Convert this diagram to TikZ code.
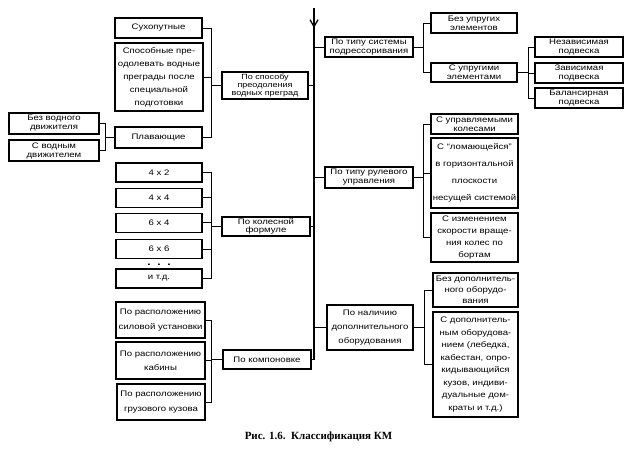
\documentclass[tikz,border=0pt]{standalone}
\usepackage{fontspec}
\setmainfont{Liberation Serif}
\newfontfamily\kmfont[FakeStretch=1.2]{Liberation Sans}
\usetikzlibrary{arrows.meta,positioning}

\begin{document}
\begin{tikzpicture}[x=1pt,y=-1pt,
    kbox/.style={draw,line width=1.2pt,align=center,inner sep=1pt,font=\kmfont\fontsize{8}{9}\selectfont},
    lsp/.style={font=\kmfont\fontsize{8}{#1}\selectfont},
    wire/.style={line width=0.9pt}]
  \useasboundingbox (0,0) rectangle (640,456);
  \coordinate (top) at (314,8);
  \coordinate (tip) at (314,28);
  \coordinate (bot) at (314,359.5);
  \draw[line width=1.3pt] (top) -- (bot);
  \draw[line width=1.3pt,-{Straight Barb[length=7pt,width=8pt]}] (top) -- (tip);

  % left side
  \node[kbox,minimum width=87,minimum height=20] (suh) at (158.5,28) {Сухопутные};
  \node[kbox,minimum width=88,minimum height=68,lsp=13] (spos) at (159,77) {Способные пре-\\одолевать водные\\преграды после\\специальной\\подготовки};
  \node[kbox,minimum width=87,minimum height=21] (plav) at (158.5,137.5) {Плавающие};
  \node[kbox,minimum width=90,minimum height=21] (bezd) at (54,123.5) {Без водного\\движителя};
  \node[kbox,minimum width=90,minimum height=21] (sdv) at (54,150.5) {С водным\\движителем};
  \node[kbox,minimum width=86,minimum height=27,font=\kmfont\fontsize{7.5}{7.8}\selectfont] (vodn) at (265,85.5) {По способу\\преодоления\\водных преград};

  \node[kbox,minimum width=86,minimum height=19] (f42) at (159,172.5) {4 x 2};
  \node[kbox,minimum width=86,minimum height=19,below=5pt of f42] (f44) {4 x 4};
  \node[kbox,minimum width=86,minimum height=19,below=5pt of f44] (f64) {6 x 4};
  \node[kbox,minimum width=86,minimum height=19,below=6pt of f64] (f66) {6 x 6};
  \node[font=\kmfont\bfseries] (dots) at (159,265) {.\ \ .\ \ .};
  \node[kbox,minimum width=86,minimum height=19] (itd) at (159,278.5) {и т.д.};
  \node[kbox,minimum width=88,minimum height=19,lsp=8.5] (kolf) at (266,226.5) {По колесной\\формуле};

  \node[kbox,minimum width=89,minimum height=36,lsp=15] (sil) at (160.5,320) {По расположению\\силовой установки};
  \node[kbox,minimum width=89,minimum height=37,lsp=14] (kab) at (160.5,360.5) {По расположению\\кабины};
  \node[kbox,minimum width=88,minimum height=36,lsp=15] (kuz) at (161,402) {По расположению\\грузового кузова};
  \node[kbox,minimum width=88,minimum height=19] (komp) at (267,359.5) {По компоновке};

  % right side
  \node[kbox,minimum width=88,minimum height=20] (podr) at (369,47) {По типу системы\\подрессоривания};
  \node[kbox,minimum width=86,minimum height=20] (bezu) at (474,23) {Без упругих\\элементов};
  \node[kbox,minimum width=86,minimum height=19] (supr) at (474,72.5) {С упругими\\элементами};
  \node[kbox,minimum width=88,minimum height=20] (nez) at (579,47) {Независимая\\подвеска};
  \node[kbox,minimum width=88,minimum height=20] (zav) at (579,73) {Зависимая\\подвеска};
  \node[kbox,minimum width=88,minimum height=20] (bal) at (579,98) {Балансирная\\подвеска};

  \node[kbox,minimum width=88,minimum height=21] (rul) at (369,177.5) {По типу рулевого\\управления};
  \node[kbox,minimum width=87,minimum height=20] (upr) at (474.5,124) {С управляемыми\\колесами};
  \node[kbox,minimum width=87,minimum height=70,lsp=17] (lom) at (474.5,173) {С “ломающейся”\\в горизонтальной\\плоскости\\несущей системой};
  \node[kbox,minimum width=87,minimum height=49,lsp=12] (izm) at (474.5,237.5) {С изменением\\скорости враще-\\ния колес по\\бортам};

  \node[kbox,minimum width=86,minimum height=45,lsp=14] (nal) at (370,327.5) {По наличию\\дополнительного\\оборудования};
  \node[kbox,minimum width=85,minimum height=34,lsp=11] (bezdop) at (475.5,290) {Без дополнитель-\\ного оборудо-\\вания};
  \node[kbox,minimum width=85,minimum height=105,lsp=12.5] (sdop) at (475.5,364.5) {С дополнитель-\\ным оборудова-\\нием (лебедка,\\кабестан, опро-\\кидывающийся\\кузов, индиви-\\дуальные дом-\\краты и т.д.)};

  \node[font=\bfseries\fontsize{11}{13}\selectfont] (cap) at (318.5,437) {Рис. 1.6.\ \ Классификация КМ};

  % connectors
  \foreach \n in {vodn,kolf} \draw[wire] (\n.east) -- (\n.east -| top);
  \draw[wire] (komp.east) -- (bot);
  \foreach \n in {podr,rul,nal} \draw[wire] (\n.west -| top) -- (\n.west);
  \foreach \c in {suh,spos,plav} \draw[wire] (\c.east) -| ([xshift=-10pt]vodn.west) -- (vodn.west);
  \foreach \c in {bezd,sdv} \draw[wire] (\c.east) -| ([xshift=-9pt]plav.west) -- (plav.west);
  \foreach \c in {f42,f44,f64,f66,itd} \draw[wire] (\c.east) -| ([xshift=-10pt]kolf.west) -- (kolf.west);
  \foreach \c in {sil,kab,kuz} \draw[wire] (\c.east) -| ([xshift=-11pt]komp.west) -- (komp.west);
  \foreach \c in {bezu,supr} \draw[wire] (podr.east) -- ++(10,0) |- (\c.west);
  \foreach \c in {nez,zav,bal} \draw[wire] (supr.east) -- ++(11,0) |- (\c.west);
  \foreach \c in {upr,lom,izm} \draw[wire] (rul.east) -- ++(10,0) |- (\c.west);
  \foreach \c in {bezdop,sdop} \draw[wire] (nal.east) -- ++(11,0) |- (\c.west);
\end{tikzpicture}
\end{document}
